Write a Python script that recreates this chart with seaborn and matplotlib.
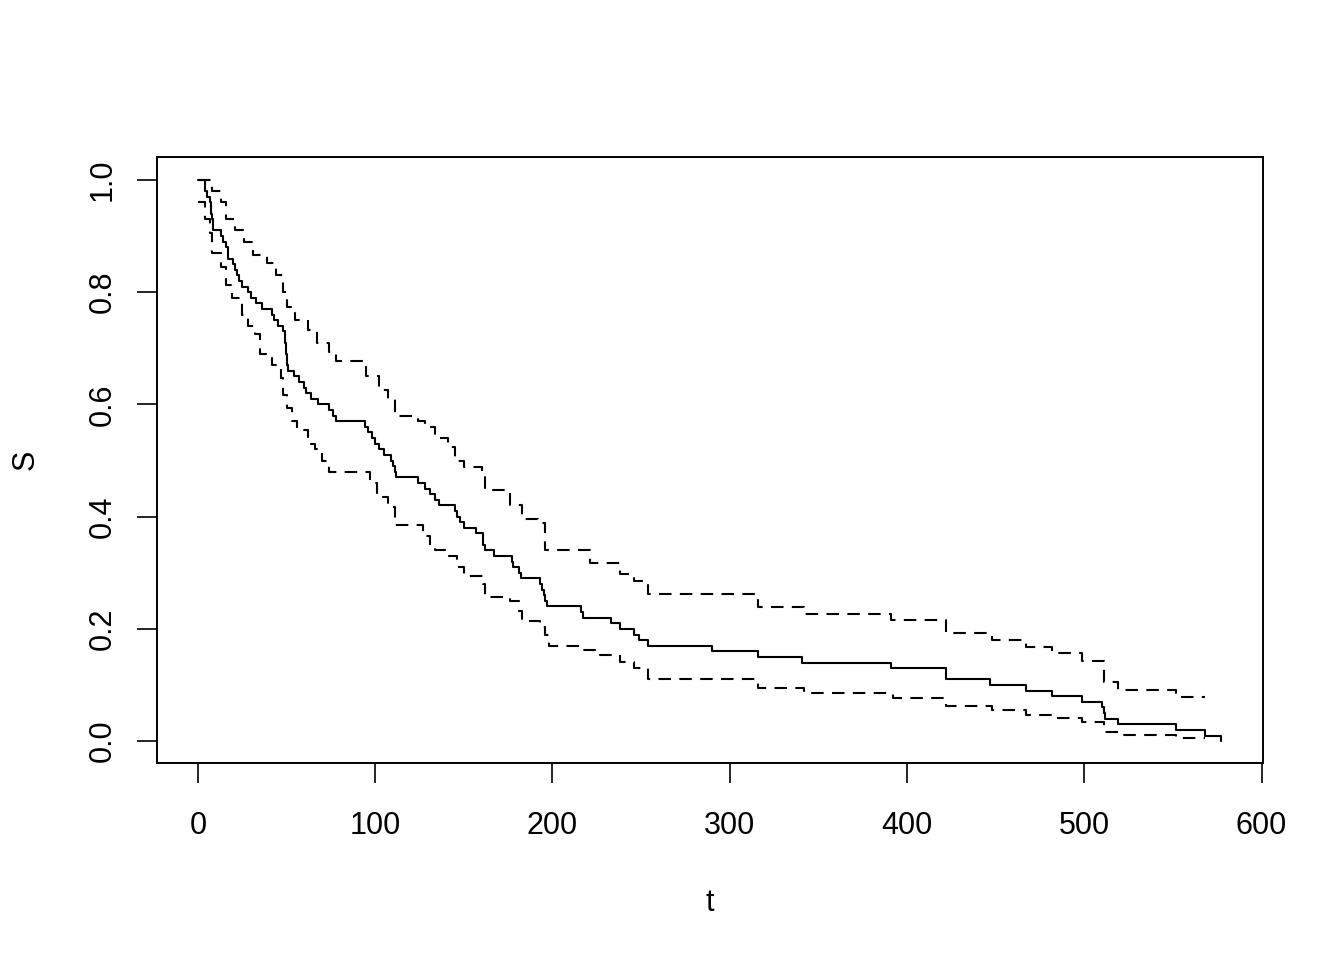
import numpy as np
import pandas as pd
import seaborn as sns
import matplotlib
matplotlib.use("Agg")
import matplotlib.pyplot as plt

# Kaplan-Meier estimate (step changes)
t_surv = [0, 4, 5, 7, 7.5, 8, 8.5, 13, 14, 16, 17, 20, 21, 22, 23, 25, 28, 30, 33, 36,
          42, 43, 45, 48, 49, 49.5, 50, 51, 54, 57, 60, 61, 64, 68, 74, 76, 78,
          94, 96, 98, 100, 102, 105, 109, 110, 111, 112, 124, 128, 131, 134, 136,
          145, 146, 148, 150, 157, 161, 162, 167, 177, 178, 181, 182, 193, 194, 195,
          196, 197, 216, 217, 233, 238, 246, 249, 254, 290, 316, 341, 391, 422, 447,
          467, 482, 499, 510, 511, 511.5, 519, 552, 568, 577]
s_surv = [1.00, 0.98, 0.97, 0.96, 0.94, 0.93, 0.91, 0.90, 0.89, 0.88, 0.86, 0.85, 0.84,
          0.83, 0.82, 0.81, 0.80, 0.79, 0.78, 0.77, 0.76, 0.75, 0.74, 0.73, 0.71, 0.69,
          0.67, 0.66, 0.65, 0.64, 0.63, 0.62, 0.61, 0.60, 0.59, 0.58, 0.57,
          0.56, 0.55, 0.54, 0.53, 0.52, 0.51, 0.50, 0.49, 0.48, 0.47, 0.46, 0.45, 0.44,
          0.43, 0.42, 0.41, 0.40, 0.39, 0.38, 0.37, 0.35, 0.34, 0.33, 0.32, 0.31, 0.30,
          0.29, 0.28, 0.27, 0.26, 0.25, 0.24, 0.23, 0.22, 0.21, 0.20, 0.19, 0.18, 0.17,
          0.16, 0.15, 0.14, 0.13, 0.11, 0.10, 0.09, 0.08, 0.07, 0.06, 0.05, 0.04, 0.03,
          0.02, 0.01, 0.00]

# upper confidence limit
t_upper = [0, 8, 13, 16, 21, 26, 31, 39, 44, 48, 50, 55, 62, 67, 74, 78, 95, 102, 107,
           111, 124, 128, 134, 141, 145, 150, 160, 162, 176, 183, 192, 196, 221, 238,
           246, 254, 316, 342, 391, 422, 448, 467, 482, 499, 511, 519, 552, 568]
s_upper = [1.00, 0.98, 0.96, 0.93, 0.91, 0.89, 0.866, 0.852, 0.83, 0.80, 0.774, 0.75,
           0.733, 0.71, 0.693, 0.677, 0.65, 0.625, 0.61, 0.58, 0.57, 0.56, 0.54, 0.525,
           0.50, 0.488, 0.477, 0.447, 0.42, 0.395, 0.388, 0.34, 0.317, 0.298, 0.285,
           0.262, 0.239, 0.226, 0.216, 0.192, 0.18, 0.168, 0.157, 0.143, 0.105, 0.091,
           0.078, 0.078]

# lower confidence limit
t_lower = [0, 4, 7, 8, 13, 16, 19, 25, 28, 32, 35, 42, 47, 48, 50, 53, 56, 62, 66, 70,
           74, 97, 101, 107, 111, 127, 131, 134, 140, 146, 150, 161, 162, 176, 181, 183,
           193, 196, 198, 217, 227, 238, 246, 254, 316, 342, 392, 422, 448, 467, 482,
           499, 511, 519, 552, 568]
s_lower = [0.96, 0.93, 0.905, 0.87, 0.845, 0.813, 0.79, 0.76, 0.74, 0.725, 0.69, 0.67,
           0.647, 0.617, 0.594, 0.57, 0.555, 0.53, 0.52, 0.50, 0.48, 0.46, 0.435, 0.417,
           0.385, 0.365, 0.35, 0.34, 0.33, 0.31, 0.294, 0.28, 0.257, 0.25, 0.232, 0.214,
           0.203, 0.19, 0.17, 0.162, 0.153, 0.141, 0.13, 0.11, 0.094, 0.085, 0.077,
           0.062, 0.055, 0.046, 0.041, 0.034, 0.016, 0.011, 0.005, 0.005]

x_ticks = [0, 100, 200, 300, 400, 500, 600]
y_ticks = [0.0, 0.2, 0.4, 0.6, 0.8, 1.0]
y_ticklabels = ["0.0", "0.2", "0.4", "0.6", "0.8", "1.0"]

sns.set_theme(style="ticks")
plt.rcParams["font.family"] = ["Liberation Sans", "DejaVu Sans"]

fig, ax = plt.subplots(figsize=(13.44, 9.6), dpi=100)
fig.subplots_adjust(left=0.1168, right=0.9397, bottom=0.2052, top=0.8365)

sns.lineplot(x=t_surv, y=s_surv, ax=ax, estimator=None, sort=False,
             drawstyle="steps-post", color="black", linewidth=1.5)
for tt, ss in [(t_upper, s_upper), (t_lower, s_lower)]:
    sns.lineplot(x=tt, y=ss, ax=ax, estimator=None, sort=False,
                 drawstyle="steps-post", color="black", linewidth=1.5,
                 dashes=False, linestyle=(0, (6, 4)))

ax.set_xlim(-23.1, 600.8)
ax.set_ylim(-0.039, 1.041)
ax.set_xticks(x_ticks)
ax.set_xticklabels([str(v) for v in x_ticks])
ax.set_yticks(y_ticks)
ax.set_yticklabels(y_ticklabels, rotation=90, va="center")
ax.tick_params(direction="out", length=14.4, width=1.2, color="black",
               labelsize=22, labelcolor="black")
ax.tick_params(axis="x", pad=20)
ax.tick_params(axis="y", pad=14)
for sp in ax.spines.values():
    sp.set_visible(True)
    sp.set_color("black")
    sp.set_linewidth(1.4)

ax.set_xlabel("t", fontsize=22, labelpad=34, color="black")
ax.set_ylabel("S", fontsize=22, labelpad=34, color="black")

fig.savefig("out.png", dpi=100)
